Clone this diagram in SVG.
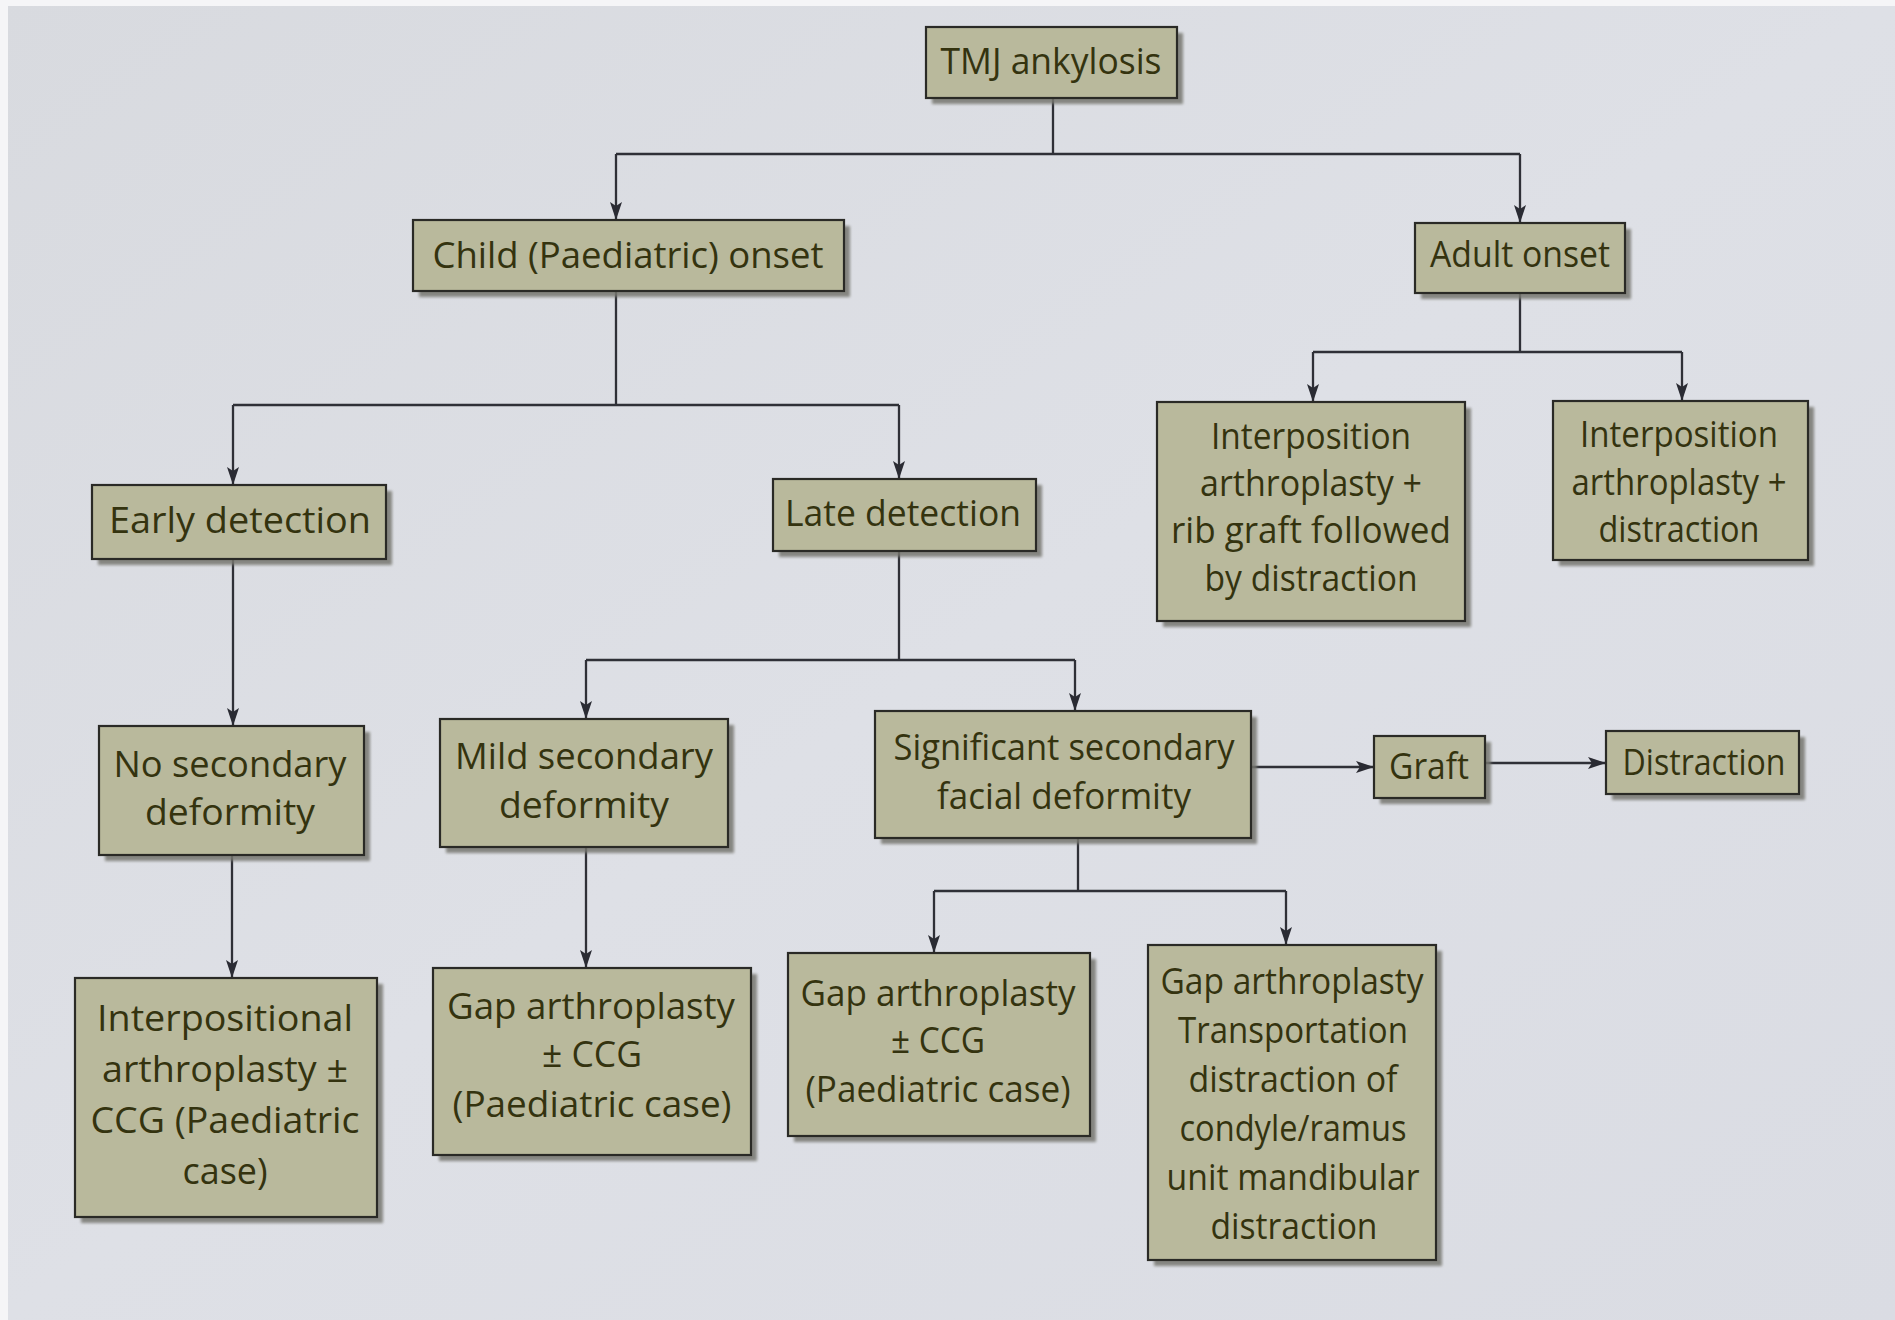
<svg xmlns="http://www.w3.org/2000/svg" width="1895" height="1320" viewBox="0 0 1895 1320">
<defs>
<linearGradient id="bg" x1="0" y1="0" x2="1" y2="1">
<stop offset="0" stop-color="#d8dadf"/>
<stop offset="0.5" stop-color="#dee0e6"/>
<stop offset="1" stop-color="#dadce3"/>
</linearGradient>
<filter id="blur" x="-5%" y="-5%" width="110%" height="110%"><feGaussianBlur stdDeviation="1.5"/></filter>
<marker id="arr" markerUnits="userSpaceOnUse" markerWidth="18" markerHeight="12" refX="18" refY="6" orient="auto">
<path d="M0,0 L18,6 L0,12 L4,6 z" fill="#2a2b33"/>
</marker>
<style>
.box{fill:#b9b99c;stroke:#2a2a26;stroke-width:2.2}
.sh{fill:#77776f;opacity:0.85;filter:url(#blur)}
.t{font-family:"Open Sans","Noto Sans","DejaVu Sans",sans-serif;font-size:37px;fill:#34330f;text-anchor:middle}
.c{fill:none;stroke:#2f3037;stroke-width:2.3}
.a{marker-end:url(#arr)}
</style>
</defs>
<rect x="0" y="0" width="1895" height="1320" fill="url(#bg)"/>
<rect x="0" y="0" width="1895" height="6" fill="#f5f5f7"/>
<rect x="0" y="0" width="8" height="1320" fill="#f5f5f7"/>

<g id="connectors">
<path class="c" d="M1053,98 V154 M616,154 H1520"/>
<path class="c a" d="M616,154 V220"/>
<path class="c a" d="M1520,154 V223"/>
<path class="c" d="M616,291 V405 M233,405 H899"/>
<path class="c a" d="M233,405 V485"/>
<path class="c a" d="M899,405 V479"/>
<path class="c a" d="M233,559 V726"/>
<path class="c a" d="M232,855 V978"/>
<path class="c" d="M899,551 V660 M586,660 H1075"/>
<path class="c a" d="M586,660 V719"/>
<path class="c a" d="M1075,660 V711"/>
<path class="c a" d="M586,847 V968"/>
<path class="c a" d="M1251,767 H1374"/>
<path class="c a" d="M1485,763 H1606"/>
<path class="c" d="M1078,838 V891 M934,891 H1286"/>
<path class="c a" d="M934,891 V953"/>
<path class="c a" d="M1286,891 V945"/>
<path class="c" d="M1520,293 V352 M1313,352 H1682"/>
<path class="c a" d="M1313,352 V402"/>
<path class="c a" d="M1682,352 V401"/>
</g>

<g id="tmj">
<rect class="sh" x="932" y="33" width="251" height="71"/>
<rect class="box" x="926" y="27" width="251" height="71"/>
<text class="t" x="1051" y="74" textLength="221" lengthAdjust="spacingAndGlyphs">TMJ ankylosis</text>
</g>
<g id="child">
<rect class="sh" x="419" y="226" width="431" height="71"/>
<rect class="box" x="413" y="220" width="431" height="71"/>
<text class="t" x="628" y="268" textLength="391" lengthAdjust="spacingAndGlyphs">Child (Paediatric) onset</text>
</g>
<g id="adult">
<rect class="sh" x="1421" y="229" width="210" height="70"/>
<rect class="box" x="1415" y="223" width="210" height="70"/>
<text class="t" x="1520" y="267" textLength="180" lengthAdjust="spacingAndGlyphs">Adult onset</text>
</g>
<g id="early">
<rect class="sh" x="98" y="491" width="294" height="74"/>
<rect class="box" x="92" y="485" width="294" height="74"/>
<text class="t" x="240" y="533" textLength="262" lengthAdjust="spacingAndGlyphs">Early detection</text>
</g>
<g id="late">
<rect class="sh" x="779" y="485" width="263" height="72"/>
<rect class="box" x="773" y="479" width="263" height="72"/>
<text class="t" x="903" y="526" textLength="236" lengthAdjust="spacingAndGlyphs">Late detection</text>
</g>
<g id="rib">
<rect class="sh" x="1163" y="408" width="308" height="219"/>
<rect class="box" x="1157" y="402" width="308" height="219"/>
<text class="t" x="1311" y="449" textLength="200" lengthAdjust="spacingAndGlyphs">Interposition</text>
<text class="t" x="1311" y="496" textLength="222" lengthAdjust="spacingAndGlyphs">arthroplasty +</text>
<text class="t" x="1311" y="543" textLength="280" lengthAdjust="spacingAndGlyphs">rib graft followed</text>
<text class="t" x="1311" y="591" textLength="213" lengthAdjust="spacingAndGlyphs">by distraction</text>
</g>
<g id="ipd">
<rect class="sh" x="1559" y="407" width="255" height="159"/>
<rect class="box" x="1553" y="401" width="255" height="159"/>
<text class="t" x="1679" y="447" textLength="198" lengthAdjust="spacingAndGlyphs">Interposition</text>
<text class="t" x="1679" y="495" textLength="215" lengthAdjust="spacingAndGlyphs">arthroplasty +</text>
<text class="t" x="1679" y="542" textLength="161" lengthAdjust="spacingAndGlyphs">distraction</text>
</g>
<g id="nosec">
<rect class="sh" x="105" y="732" width="265" height="129"/>
<rect class="box" x="99" y="726" width="265" height="129"/>
<text class="t" x="230" y="777" textLength="233" lengthAdjust="spacingAndGlyphs">No secondary</text>
<text class="t" x="230" y="825" textLength="170" lengthAdjust="spacingAndGlyphs">deformity</text>
</g>
<g id="mild">
<rect class="sh" x="446" y="725" width="288" height="128"/>
<rect class="box" x="440" y="719" width="288" height="128"/>
<text class="t" x="584" y="769" textLength="258" lengthAdjust="spacingAndGlyphs">Mild secondary</text>
<text class="t" x="584" y="818" textLength="170" lengthAdjust="spacingAndGlyphs">deformity</text>
</g>
<g id="sig">
<rect class="sh" x="881" y="717" width="376" height="127"/>
<rect class="box" x="875" y="711" width="376" height="127"/>
<text class="t" x="1064" y="760" textLength="341" lengthAdjust="spacingAndGlyphs">Significant secondary</text>
<text class="t" x="1064" y="809" textLength="254" lengthAdjust="spacingAndGlyphs">facial deformity</text>
</g>
<g id="graft">
<rect class="sh" x="1380" y="742" width="111" height="62"/>
<rect class="box" x="1374" y="736" width="111" height="62"/>
<text class="t" x="1429" y="779" textLength="80" lengthAdjust="spacingAndGlyphs">Graft</text>
</g>
<g id="distraction">
<rect class="sh" x="1612" y="737" width="193" height="63"/>
<rect class="box" x="1606" y="731" width="193" height="63"/>
<text class="t" x="1704" y="775" textLength="163" lengthAdjust="spacingAndGlyphs">Distraction</text>
</g>
<g id="interp">
<rect class="sh" x="81" y="984" width="302" height="239"/>
<rect class="box" x="75" y="978" width="302" height="239"/>
<text class="t" x="225" y="1031" textLength="256" lengthAdjust="spacingAndGlyphs">Interpositional</text>
<text class="t" x="225" y="1082" textLength="246" lengthAdjust="spacingAndGlyphs">arthroplasty ±</text>
<text class="t" x="225" y="1133" textLength="269" lengthAdjust="spacingAndGlyphs">CCG (Paediatric</text>
<text class="t" x="225" y="1184" textLength="85" lengthAdjust="spacingAndGlyphs">case)</text>
</g>
<g id="gapm">
<rect class="sh" x="439" y="974" width="318" height="187"/>
<rect class="box" x="433" y="968" width="318" height="187"/>
<text class="t" x="591" y="1019" textLength="288" lengthAdjust="spacingAndGlyphs">Gap arthroplasty</text>
<text class="t" x="592" y="1067" textLength="100" lengthAdjust="spacingAndGlyphs">± CCG</text>
<text class="t" x="592" y="1117" textLength="279" lengthAdjust="spacingAndGlyphs">(Paediatric case)</text>
</g>
<g id="gapl">
<rect class="sh" x="794" y="959" width="302" height="183"/>
<rect class="box" x="788" y="953" width="302" height="183"/>
<text class="t" x="938" y="1006" textLength="275" lengthAdjust="spacingAndGlyphs">Gap arthroplasty</text>
<text class="t" x="938" y="1053" textLength="94" lengthAdjust="spacingAndGlyphs">± CCG</text>
<text class="t" x="938" y="1102" textLength="265" lengthAdjust="spacingAndGlyphs">(Paediatric case)</text>
</g>
<g id="gapr">
<rect class="sh" x="1154" y="951" width="288" height="315"/>
<rect class="box" x="1148" y="945" width="288" height="315"/>
<text class="t" x="1292" y="994" textLength="263" lengthAdjust="spacingAndGlyphs">Gap arthroplasty</text>
<text class="t" x="1293" y="1043" textLength="230" lengthAdjust="spacingAndGlyphs">Transportation</text>
<text class="t" x="1293" y="1092" textLength="209" lengthAdjust="spacingAndGlyphs">distraction of</text>
<text class="t" x="1293" y="1141" textLength="227" lengthAdjust="spacingAndGlyphs">condyle/ramus</text>
<text class="t" x="1293" y="1190" textLength="253" lengthAdjust="spacingAndGlyphs">unit mandibular</text>
<text class="t" x="1294" y="1239" textLength="167" lengthAdjust="spacingAndGlyphs">distraction</text>
</g>
</svg>
